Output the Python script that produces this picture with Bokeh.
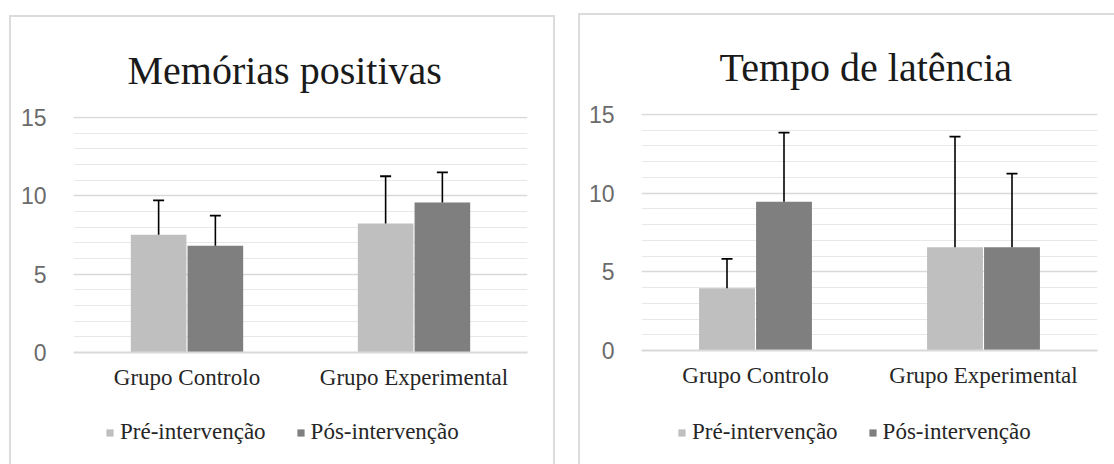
from bokeh.plotting import figure
from bokeh.layouts import row, column
from bokeh.models import (ColumnDataSource, FactorRange, Range1d, SingleIntervalTicker,
                          Legend, LegendItem, Spacer)
from bokeh.transform import dodge
from bokeh.embed import file_html
from bokeh.resources import INLINE

groups = ["Grupo Controlo", "Grupo Experimental"]
series = ["Pré-intervenção", "Pós-intervenção"]

# Memórias positivas
mem_pre = [7.52, 8.23]
mem_pre_sd = [2.19, 3.02]
mem_pos = [6.82, 9.58]
mem_pos_sd = [1.92, 1.92]

# Tempo de latência
lat_pre = [3.95, 6.56]
lat_pre_sd = [1.88, 7.03]
lat_pos = [9.46, 6.56]
lat_pos_sd = [4.39, 4.68]

PRE_COLOR = "#bfbfbf"
POS_COLOR = "#7f7f7f"
SERIF = "Liberation Serif"
LEGEND_FONT = "'Liberation Serif', serif"
SANS = "Liberation Sans"
BORDER = "2px solid #dcdcdc"


def make_chart(title, pre, pre_sd, pos, pos_sd, width, height, mb, title_offset,
               border_styles):
    src = ColumnDataSource(dict(
        g=groups,
        pre=pre, pre_top=[a + b for a, b in zip(pre, pre_sd)],
        pos=pos, pos_top=[a + b for a, b in zip(pos, pos_sd)],
    ))
    p = figure(x_range=FactorRange(*groups, range_padding=0),
               y_range=Range1d(0, mb["yend"]),
               width=width, height=height, output_backend="svg", toolbar_location=None,
               min_border_left=mb["l"], min_border_right=mb["r"],
               min_border_top=mb["t"], min_border_bottom=mb["b"])
    p.styles = border_styles
    p.outline_line_color = None
    p.background_fill_color = "white"
    p.border_fill_color = "white"

    bw = 0.245
    p.vbar(x=dodge("g", -0.125, range=p.x_range), top="pre", width=bw, source=src,
           fill_color=PRE_COLOR, line_color=None)
    p.vbar(x=dodge("g", 0.125, range=p.x_range), top="pos", width=bw, source=src,
           fill_color=POS_COLOR, line_color=None)
    for off, base, top in ((-0.125, "pre", "pre_top"), (0.125, "pos", "pos_top")):
        p.segment(x0=dodge("g", off, range=p.x_range), y0=base,
                  x1=dodge("g", off, range=p.x_range), y1=top,
                  source=src, line_color="black", line_width=1.6)
        p.scatter(x=dodge("g", off, range=p.x_range), y=top, marker="dash", size=11,
                  source=src, line_color="black", line_width=1.8)

    p.yaxis.ticker = SingleIntervalTicker(interval=5, num_minor_ticks=5)
    p.yaxis.axis_line_color = None
    p.yaxis.major_tick_line_color = None
    p.yaxis.minor_tick_line_color = None
    p.yaxis.major_label_text_font = SANS
    p.yaxis.major_label_text_font_size = "23px"
    p.yaxis.major_label_text_color = "#6b6b6b"
    p.yaxis.major_label_standoff = 21

    p.xaxis.axis_line_color = "#d9d9d9"
    p.xaxis.axis_line_width = 2
    p.xaxis.major_tick_line_color = None
    p.xaxis.minor_tick_line_color = None
    p.xaxis.major_label_text_font = SERIF
    p.xaxis.major_label_text_font_size = "23px"
    p.xaxis.major_label_text_color = "#262626"
    p.xaxis.major_label_standoff = 6

    p.xgrid.grid_line_color = None
    p.ygrid.grid_line_color = "#d9d9d9"
    p.ygrid.grid_line_width = 1.5
    p.ygrid.minor_grid_line_color = "#e8e8e8"
    p.ygrid.minor_grid_line_width = 1.2

    p.title.text = title
    p.title.text_font = SERIF
    p.title.text_font_size = "40px"
    p.title.text_font_style = "normal"
    p.title.text_color = "#1a1a1a"
    p.title.align = "left"
    p.title.offset = title_offset
    p.title.standoff = 48
    return p


def make_legend(width, height, loc, border_styles):
    lf = figure(x_range=Range1d(0, 1), y_range=Range1d(0, 1), width=width, height=height,
                output_backend="svg", toolbar_location=None,
                x_axis_type=None, y_axis_type=None,
                min_border_left=0, min_border_right=0, min_border_top=0, min_border_bottom=0)
    lf.styles = border_styles
    lf.outline_line_color = None
    lf.xgrid.grid_line_color = None
    lf.ygrid.grid_line_color = None
    # off-range bars: only their legend swatches are visible
    r1 = lf.vbar(x=[-10], top=[0], width=0.1, fill_color=PRE_COLOR, line_color=None)
    r2 = lf.vbar(x=[-10], top=[0], width=0.1, fill_color=POS_COLOR, line_color=None)
    legend = Legend(items=[LegendItem(label=series[0], renderers=[r1]),
                           LegendItem(label=series[1], renderers=[r2])],
                    orientation="horizontal", location=loc,
                    glyph_width=9, glyph_height=9, label_standoff=6, spacing=30,
                    padding=0, margin=0, border_line_color=None,
                    background_fill_alpha=0)
    legend.label_text_font = LEGEND_FONT
    legend.label_text_font_size = "23px"
    legend.label_text_color = "#262626"
    lf.add_layout(legend, "center")
    return lf


p1 = make_chart("Memórias positivas", mem_pre, mem_pre_sd, mem_pos, mem_pos_sd,
                width=546, height=385,
                mb=dict(l=62, r=30, t=99, b=50, yend=15.064),
                title_offset=54,
                border_styles={"border-top": BORDER, "border-left": BORDER,
                               "border-right": BORDER})
l1 = make_legend(546, 64, (32, 19), {"border-left": BORDER, "border-right": BORDER})

p2 = make_chart("Tempo de latência", lat_pre, lat_pre_sd, lat_pos, lat_pos_sd,
                width=536, height=387,
                mb=dict(l=61, r=19, t=98, b=52, yend=15.064),
                title_offset=78,
                border_styles={"border-top": BORDER, "border-left": BORDER})
l2 = make_legend(536, 64, (36, 19), {"border-left": BORDER})

layout = row(Spacer(width=9), column(Spacer(height=15), p1, l1),
             Spacer(width=23), column(Spacer(height=13), p2, l2))

open("out.html", "w").write(file_html(layout, INLINE))
